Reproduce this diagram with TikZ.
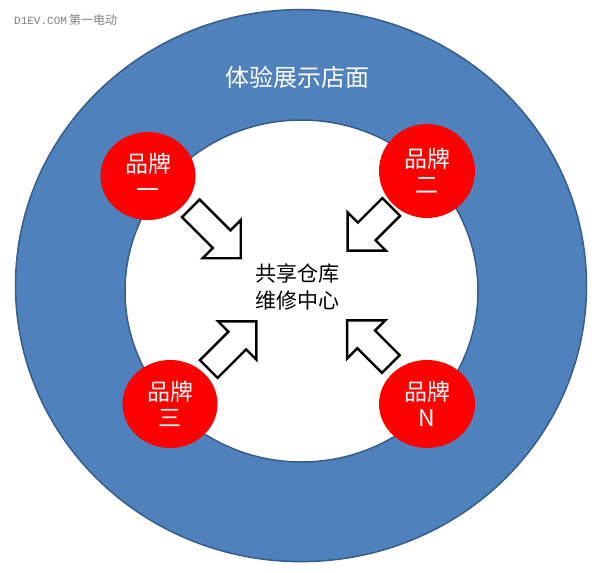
\documentclass[tikz,border=0pt]{standalone}
\usepackage{fontspec}
\usepackage{tikz}
\usetikzlibrary{calc}
\usetikzlibrary{shapes.geometric}
\setmainfont{Noto Sans CJK SC}
\newfontfamily\wmlatin{Liberation Mono}
\definecolor{ringblue}{rgb}{0.31,0.506,0.741}
\definecolor{ringedge}{rgb}{0.22,0.365,0.541}
\definecolor{brandred}{rgb}{1.,0.,0.}
\definecolor{markgray}{rgb}{0.5,0.5,0.5}
\tikzstyle{brand}=[ellipse,fill=brandred,text=white,align=center,inner sep=0pt,font=\fontsize{23}{26}\selectfont]
\tikzstyle{push}=[draw=black,fill=white,line width=2.4pt,line join=miter]
% block arrow: tail x, tail y, angle, length
\newcommand{\pusharrow}[4]{%
  \draw[push,shift={(#1,#2)},rotate=#3] (0,12.5) -- ({#4-27},12.5) -- ({#4-27},27) -- (#4,0)
    -- ({#4-27},-27) -- ({#4-27},-12.5) -- (0,-12.5) -- cycle;}

\begin{document}
\begin{tikzpicture}[line cap=round,line join=round,x=1pt,y=-1pt]
  \useasboundingbox (0,0) rectangle (600,573);
  \fill[white] (0,0) rectangle (600,573);
  % rings
  \draw[fill=ringblue,draw=ringedge,line width=1.5pt] (301,285.6) ellipse (285.5 and 276);
  \draw[fill=white,draw=ringedge,line width=1.5pt] (301.5,291) ellipse (176.5 and 171);
  \node[text=white,font=\fontsize{24}{24}\selectfont] (shop) at (297,77) {体验展示店面};
  \node[align=left,font=\fontsize{21}{26.5}\selectfont] (hub) at (297,287) {共享仓库\\维修中心};
  % arrows
  \pusharrow{190.8}{208.3}{-45}{70.7}
  \pusharrow{391.2}{207}{-135}{61.6}
  \pusharrow{208.8}{369}{45}{67.3}
  \pusharrow{390.8}{364}{135}{61.8}
  % brands
  \node[brand,minimum width=95pt,minimum height=88pt] (b1) at (148,176) {品牌\\一};
  \node[brand,minimum width=96pt,minimum height=94pt] (b2) at (427,171) {品牌\\二};
  \node[brand,minimum width=95pt,minimum height=88pt] (b3) at (170,404) {品牌\\三};
  \node[brand,minimum width=96pt,minimum height=88pt] (bn) at (427,404) {品牌\\N};
  % watermark
  \node[anchor=west,text=markgray,inner sep=0pt] (mark) at (14,20)
    {{\wmlatin\fontsize{11}{12}\selectfont D1EV.COM} {\fontsize{12}{12}\selectfont 第一电动}};
\end{tikzpicture}
\end{document}
